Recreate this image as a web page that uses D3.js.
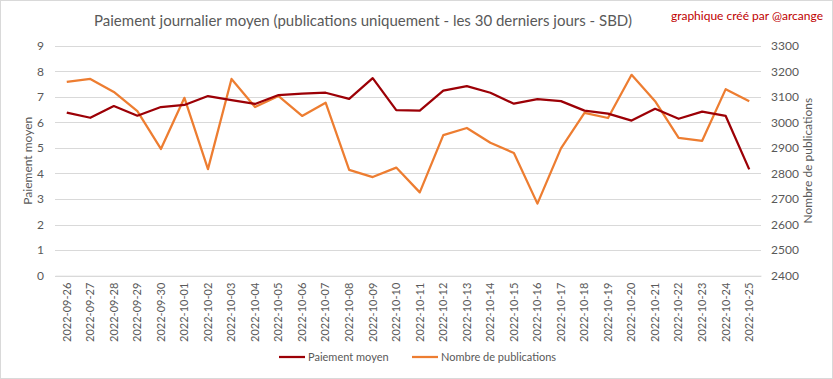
<!DOCTYPE html>
<html><head><meta charset="utf-8">
<script src="https://cdn.jsdelivr.net/npm/d3@7"></script>
<style>
html,body{margin:0;padding:0;background:#fff;}
svg{display:block;font-family:Lato, "Noto Sans", sans-serif;}
</style></head>
<body>
<svg id="c" width="833" height="379"></svg>
<script>
const dates = ["2022-09-26","2022-09-27","2022-09-28","2022-09-29","2022-09-30","2022-10-01","2022-10-02","2022-10-03","2022-10-04","2022-10-05","2022-10-06","2022-10-07","2022-10-08","2022-10-09","2022-10-10","2022-10-11","2022-10-12","2022-10-13","2022-10-14","2022-10-15","2022-10-16","2022-10-17","2022-10-18","2022-10-19","2022-10-20","2022-10-21","2022-10-22","2022-10-23","2022-10-24","2022-10-25"];
const paiementMoyen = [6.38,6.18,6.64,6.26,6.60,6.68,7.03,6.87,6.72,7.07,7.12,7.16,6.92,7.73,6.48,6.46,7.24,7.42,7.16,6.73,6.91,6.83,6.46,6.34,6.07,6.53,6.14,6.42,6.25,4.16];
const nombrePublications = [3158,3170,3119,3044,2896,3096,2817,3170,3060,3103,3025,3077,2814,2786,2823,2726,2950,2978,2920,2880,2682,2898,3037,3017,3186,3083,2939,2928,3130,3083];
const leftTicks = [0,1,2,3,4,5,6,7,8,9];
const rightTicks = [2400,2500,2600,2700,2800,2900,3000,3100,3200,3300];
const seriesNames = ["Paiement moyen","Nombre de publications"];
const colors = ["#9c0006","#ed7d31"];

(function(){
const svg = d3.select("#c");
const W = 833, H = 379;
const pLeft = 55, pRight = 761, pTop = 45.7, pBottom = 275.7;
const textCol = "#595959";

svg.append("rect").attr("x",0.5).attr("y",0.5).attr("width",W-1).attr("height",H-1)
  .attr("fill","#fff").attr("stroke","#d9d9d9");

const x = d3.scaleBand().domain(dates).range([pLeft,pRight]);
const yL = d3.scaleLinear().domain([0,9]).range([pBottom,pTop]);
const yR = d3.scaleLinear().domain([2400,3300]).range([pBottom,pTop]);

svg.append("g").selectAll("line").data(leftTicks).join("line")
  .attr("x1",pLeft).attr("x2",pRight)
  .attr("y1",d=>Math.round(yL(d))+0.5).attr("y2",d=>Math.round(yL(d))+0.5)
  .attr("stroke","#d9d9d9").attr("stroke-width",1);

const axL = d3.axisLeft(yL).tickValues(leftTicks).tickSize(0).tickPadding(11);
const gL = svg.append("g").attr("transform",`translate(${pLeft},0)`).call(axL);
gL.select(".domain").remove();
gL.selectAll("text").attr("fill",textCol).style("font-size","12px").style("font-family","Lato");

const axR = d3.axisRight(yR).tickValues(rightTicks).tickFormat(d3.format("d")).tickSize(0).tickPadding(10);
const gR = svg.append("g").attr("transform",`translate(${pRight},0)`).call(axR);
gR.select(".domain").remove();
gR.selectAll("text").attr("fill",textCol).style("font-size","12px").style("font-family","Lato");

const axX = d3.axisBottom(x).tickSize(0).tickPadding(0);
const gX = svg.append("g").attr("transform",`translate(0,${pBottom})`).call(axX);
gX.select(".domain").attr("stroke","#d9d9d9");
gX.selectAll("text").attr("fill",textCol).style("font-size","11px").style("font-family","Lato")
  .attr("transform","rotate(-90)").attr("text-anchor","end").attr("dy","0.35em").attr("x",-7).attr("y",0);

const lineL = d3.line().x((d,i)=>x(dates[i])+x.bandwidth()/2).y(d=>yL(d));
const lineR = d3.line().x((d,i)=>x(dates[i])+x.bandwidth()/2).y(d=>yR(d));
svg.append("path").datum(nombrePublications).attr("d",lineR).attr("fill","none")
  .attr("stroke",colors[1]).attr("stroke-width",2.25).attr("stroke-linejoin","round");
svg.append("path").datum(paiementMoyen).attr("d",lineL).attr("fill","none")
  .attr("stroke",colors[0]).attr("stroke-width",2.25).attr("stroke-linejoin","round");

svg.append("text").attr("transform",`translate(32,${(pTop+pBottom)/2}) rotate(-90)`)
  .attr("text-anchor","middle").attr("fill",textCol).style("font-size","12px").text("Paiement moyen");
svg.append("text").attr("transform",`translate(812,${(pTop+pBottom)/2}) rotate(-90)`)
  .attr("text-anchor","middle").attr("fill",textCol).style("font-size","12px").text("Nombre de publications");

svg.append("text").attr("x",363).attr("y",26).attr("text-anchor","middle")
  .attr("fill",textCol).style("font-size","15px").text("Paiement journalier moyen (publications uniquement  - les 30 derniers jours - SBD)");
svg.append("text").attr("x",823).attr("y",20).attr("text-anchor","end")
  .attr("fill","#c00000").style("font-size","12px").text("graphique créé par @arcange");

const legX = [279, 412];
const leg = svg.append("g");
seriesNames.forEach((n,i)=>{
  leg.append("line").attr("x1",legX[i]).attr("x2",legX[i]+26).attr("y1",357).attr("y2",357)
    .attr("stroke",colors[i]).attr("stroke-width",2.25);
  leg.append("text").attr("x",legX[i]+29).attr("y",361).attr("fill",textCol)
    .style("font-size","11px").text(n);
});
})();
</script>
</body></html>
